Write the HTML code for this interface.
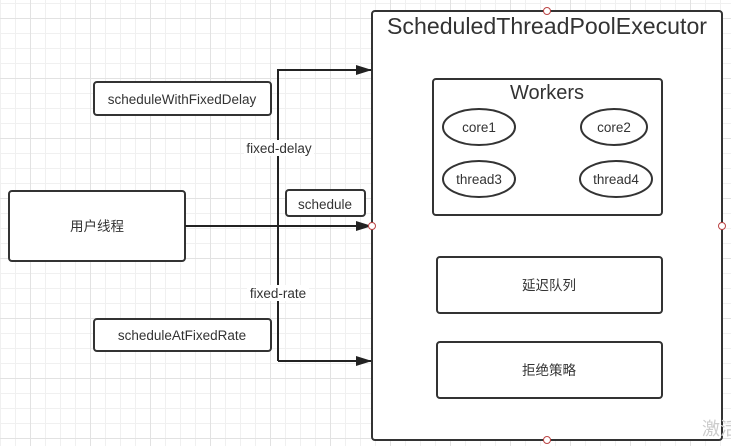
<!DOCTYPE html>
<html><head><meta charset="utf-8"><style>
body{margin:0;width:731px;height:446px;overflow:hidden;background-color:#fff;
background-image:linear-gradient(#e2e2e2 1px,transparent 1px),linear-gradient(90deg,#e2e2e2 1px,transparent 1px),linear-gradient(#f0f0f0 1px,transparent 1px),linear-gradient(90deg,#f0f0f0 1px,transparent 1px);
background-size:60px 60px,60px 60px,15px 15px,15px 15px;background-position:0 18px,30px 0,0 3px,0 0;}
svg{position:absolute;left:0;top:0}
text{font-family:"Liberation Sans","Noto Sans CJK SC",sans-serif;fill:#333}
</style></head><body>
<svg width="731" height="446" viewBox="0 0 731 446">
<defs><marker id="a" markerWidth="16" markerHeight="10" refX="15" refY="5" orient="auto" markerUnits="userSpaceOnUse"><path d="M0,0L16,5L0,10Z" fill="#222"/></marker></defs>
<g stroke="#333" stroke-width="2" fill="#fff">
<rect x="372" y="11" width="350" height="429" rx="3"/>
<rect x="433" y="79" width="229" height="136" rx="3"/>
<rect x="437" y="257" width="225" height="56" rx="3"/>
<rect x="437" y="342" width="225" height="56" rx="3"/>
<ellipse cx="479" cy="127" rx="36" ry="18"/>
<ellipse cx="614" cy="127" rx="33" ry="18"/>
<ellipse cx="479" cy="179" rx="36" ry="18"/>
<ellipse cx="616" cy="179" rx="36" ry="18"/>
<rect x="9" y="191" width="176" height="70" rx="3"/>
<rect x="94" y="82" width="177" height="33" rx="3"/>
<rect x="94" y="319" width="177" height="32" rx="3"/>
<rect x="286" y="190" width="79" height="26" rx="3"/>
</g>
<g stroke="#222" stroke-width="2" fill="none">
<polyline points="278,361 278,70 371,70" marker-end="url(#a)"/>
<line x1="278" y1="361" x2="371" y2="361" marker-end="url(#a)"/>
<line x1="185" y1="226" x2="371" y2="226" marker-end="url(#a)"/>
</g>
<g fill="#fff" stroke="#b44" stroke-width="1">
<circle cx="372" cy="226" r="3.5"/><circle cx="722" cy="226" r="3.5"/>
<circle cx="547" cy="11" r="3.5"/><circle cx="547" cy="440" r="3.5"/>
</g>
<rect x="244" y="140" width="70" height="16" fill="#fff"/>
<rect x="247" y="285" width="62" height="16" fill="#fff"/>
<g font-size="13.5" text-anchor="middle">
<text x="547" y="34" font-size="23" textLength="320" lengthAdjust="spacingAndGlyphs">ScheduledThreadPoolExecutor</text>
<text x="547" y="99" font-size="20">Workers</text>
<text x="479" y="132">core1</text>
<text x="614" y="132">core2</text>
<text x="479" y="184">thread3</text>
<text x="616" y="184">thread4</text>
<text x="549" y="290">延迟队列</text>
<text x="549" y="375">拒绝策略</text>
<text x="97" y="231">用户线程</text>
<text x="182" y="104">scheduleWithFixedDelay</text>
<text x="182" y="340">scheduleAtFixedRate</text>
<text x="325" y="209">schedule</text>
<text x="279" y="153">fixed-delay</text>
<text x="278" y="298">fixed-rate</text>
<text x="720" y="435" font-size="18" style="fill:#ccc">激活</text>
</g>
</svg>
</body></html>
